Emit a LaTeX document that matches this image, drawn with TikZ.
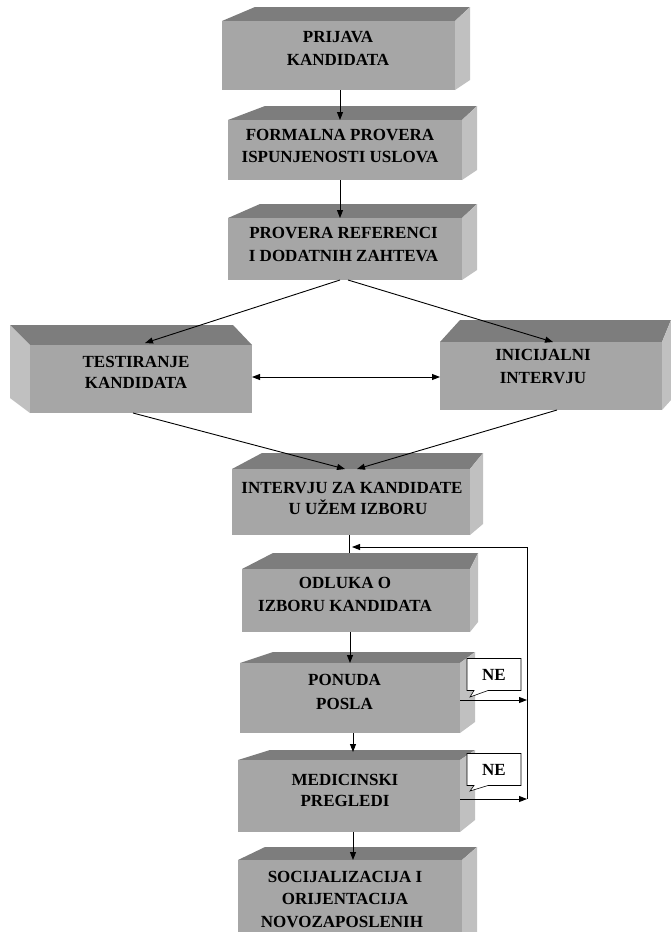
\documentclass[tikz,border=0pt]{standalone}
\usepackage{fontspec}
\setmainfont{Liberation Serif}
\usetikzlibrary{arrows.meta,shapes.callouts,calc}
\definecolor{topgray}{RGB}{125,125,125}
\definecolor{frontgray}{RGB}{166,166,166}
\definecolor{sidegray}{RGB}{192,192,192}
\tikzset{
  topf/.style={fill=topgray},
  sidef/.style={fill=sidegray},
  frontf/.style={fill=frontgray, inner sep=0pt, outer sep=0pt},
  lbl/.style={font=\bfseries\fontsize{17}{22.5}\selectfont, align=center, inner sep=0pt},
  arr/.style={-{Triangle[length=8pt,width=6pt]}, line width=0.9pt},
  dblarr/.style={{Triangle[length=8pt,width=6pt]}-{Triangle[length=8pt,width=6pt]}, line width=0.9pt},
  con/.style={line width=0.9pt},
  nebox/.style={rectangle callout, draw, fill=white, line width=0.6pt,
    minimum width=54pt, minimum height=32pt, inner sep=0pt,
    font=\bfseries\fontsize{17}{20}\selectfont, callout pointer width=14pt}
}
% name, x1, y1, x2, y2, back-left x, back y, back-right x, side bottom y
\newcommand\cubebox[9]{%
  \fill[topf] (#2,#3) -- (#6,#7) -- (#8,#7) -- (#4,#3) -- cycle;
  \fill[sidef] (#4,#3) -- (#8,#7) -- (#8,#9) -- (#4,#5) -- cycle;
  \node[frontf, minimum width={(#4-#2)*1pt}, minimum height={(#5-#3)*1pt}] (#1) at ({(#2+#4)/2},{(#3+#5)/2}) {};
}
\begin{document}
\begin{tikzpicture}[x=1pt,y=-1pt]
\useasboundingbox (0,0) rectangle (671,932);
\fill[white] (0,0) rectangle (671,932);
\clip (0,0) rectangle (671,932);

% central boxes
\cubebox{b1}{222}{21}{455}{90}{255}{7}{470}{80}
\cubebox{b2}{228}{120}{462}{180}{265}{106}{477}{170}
\cubebox{b3}{228}{218}{462}{280}{260}{204}{477}{270}
\cubebox{intv}{232}{469}{470}{535}{262}{453}{483}{524}
\cubebox{odl}{242}{569}{470}{632}{273}{553}{478}{622}
\cubebox{pon}{240}{663}{460}{733}{273}{652}{475}{722}
\cubebox{med}{238}{760}{460}{832}{270}{750}{475}{820}
\cubebox{soc}{238}{860}{462}{945}{265}{847}{477}{935}

% left box (left face visible)
\fill[topf] (30,345) -- (10,325) -- (233,325) -- (252,345) -- cycle;
\fill[sidef] (10,325) -- (30,345) -- (30,413) -- (10,398) -- cycle;
\node[frontf, minimum width=222pt, minimum height=68pt] (test) at (141,379) {};

% right box
\fill[topf] (440,342) -- (460,320) -- (671,320) -- (662,342) -- cycle;
\fill[sidef] (662,342) -- (671,320) -- (671,400) -- (662,410) -- cycle;
\node[frontf, minimum width=222pt, minimum height=68pt] (ini) at (551,376) {};

% texts
\node[lbl, font=\bfseries\fontsize{17}{23.5}\selectfont] (t1) at (338,48.5) {PRIJAVA\\KANDIDATA};
\node[lbl] (t2) at (340,146) {FORMALNA PROVERA\\ISPUNJENOSTI USLOVA};
\node[lbl] (t3) at (343.5,244.5) {PROVERA REFERENCI\\I DODATNIH ZAHTEVA};
\node[lbl, font=\bfseries\fontsize{17}{21}\selectfont] (tt) at (136,372) {TESTIRANJE\\KANDIDATA};
\node[lbl, font=\bfseries\fontsize{17}{23.5}\selectfont] (ti) at (543,366.5) {INICIJALNI\\INTERVJU};
\node[lbl, font=\bfseries\fontsize{17}{20.5}\selectfont] (tintv) at (352,498.5) {INTERVJU ZA KANDIDATE\\\hspace*{12pt}U UŽEM IZBORU};
\node[lbl, font=\bfseries\fontsize{17}{23}\selectfont] (todl) at (345,594.5) {ODLUKA O\\IZBORU KANDIDATA};
\node[lbl, font=\bfseries\fontsize{17}{24}\selectfont] (tpon) at (344.5,691.5) {PONUDA\\POSLA};
\node[lbl, font=\bfseries\fontsize{17}{21}\selectfont] (tmed) at (345,790) {MEDICINSKI\\PREGLEDI};
\node[lbl] (tsoc) at (345,899) {SOCIJALIZACIJA I\\ORIJENTACIJA\hspace*{20pt}\\NOVOZAPOSLENIH\hspace*{6pt}};

% connectors
\draw[arr] ([xshift=1.5pt]b1.south) -- ([xshift=1.5pt]b1.south |- b2.north);
\draw[arr] ([xshift=-5pt]b2.south) -- ([xshift=-5pt]b2.south |- b3.north);
\draw[arr] ([xshift=-5pt]b3.south) -- ([xshift=4pt,yshift=2pt]test.north);
\draw[arr] ([xshift=3pt]b3.south) -- ([xshift=2pt]ini.north);
\draw[dblarr] ([yshift=2pt]test.east) -- ([yshift=2pt]test.east -| ini.west);
\draw[arr] ([xshift=-8pt]test.south) -- ([xshift=-6pt]intv.north);
\draw[arr] ([xshift=6pt]ini.south) -- ([xshift=6pt]intv.north);
\draw[con, shorten >=16pt] ([xshift=-2pt]intv.south) -- ([xshift=-2pt]intv.south |- odl.north);
\draw[arr] ([xshift=-6pt]odl.south) -- ([xshift=-6pt]odl.south |- pon.north);
\draw[arr] ([xshift=3pt]pon.south) -- ([xshift=3pt,yshift=8pt]pon.south |- med.north);
\draw[arr] ([xshift=4pt]med.south) -- ([xshift=4pt]med.south |- soc.north);

% feedback loop
\coordinate (loop) at (527,547);
\draw[con] (loop) -- ([yshift=-3pt]med.east -| loop);
\draw[arr] ([yshift=-2pt]pon.east) -- ([yshift=-2pt]pon.east -| loop);
\draw[arr] ([yshift=-3pt]med.east) -- ([yshift=-3pt]med.east -| loop);
\draw[arr] (loop) -- ([xshift=1pt]loop -| intv.south);

% NE callouts
\coordinate (p1) at (470,697);
\coordinate (p2) at (470,791);
\node[nebox, callout absolute pointer={(p1)}] (ne1) at (494,674.5) {NE};
\node[nebox, callout absolute pointer={(p2)}] (ne2) at (494,769.5) {NE};
\end{tikzpicture}
\end{document}
